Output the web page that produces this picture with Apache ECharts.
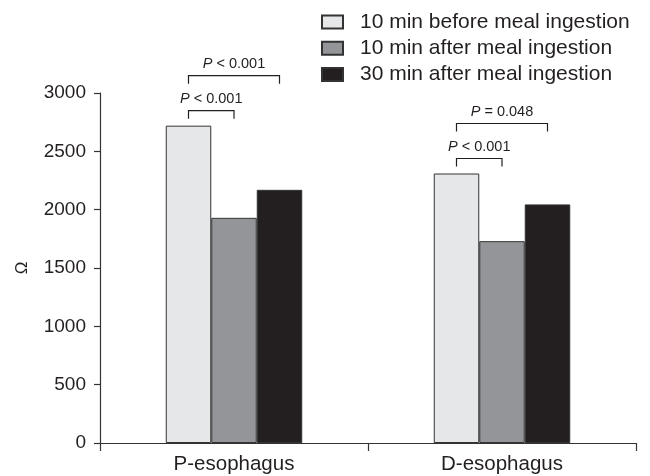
<!DOCTYPE html>
<html>
<head>
<meta charset="utf-8">
<style>
  html, body { margin: 0; padding: 0; background: #ffffff; }
  #chart { width: 650px; height: 476px; }
</style>
<script src="https://cdn.jsdelivr.net/npm/echarts@6/dist/echarts.min.js"></script>
</head>
<body>
<div id="chart"></div>
<script>
// Oesophageal impedance by segment and time relative to a meal
const categories = ['P-esophagus', 'D-esophagus'];
const seriesNames = [
  '10 min before meal ingestion',
  '10 min after meal ingestion',
  '30 min after meal ingestion'
];
const before10 = [2720, 2310];
const after10 = [1930, 1730];
const after30 = [2170, 2045];
const yTicks = [0, 500, 1000, 1500, 2000, 2500, 3000];

// Significance brackets: [category, first bar, second bar, stacking level]
const brackets = [
  [0, 0, 1, 0],
  [0, 0, 2, 1],
  [1, 0, 1, 0],
  [1, 0, 2, 1]
];
const bracketLabels = ['P < 0.001', 'P < 0.001', 'P < 0.001', 'P = 0.048'];

const groups = [before10, after10, after30];
const FONT = '"Liberation Sans", Arial, Helvetica, sans-serif';
const INK = '#231f20';
const BAR_W = 45.5;
const fills = ['#e6e7e9', '#939598', '#231f20'];

const chart = echarts.init(document.getElementById('chart'), null, { renderer: 'canvas' });

const barSeries = groups.map((vals, i) => ({
  name: seriesNames[i],
  type: 'bar',
  data: vals,
  barWidth: BAR_W,
  barGap: '0%',
  itemStyle: { color: fills[i], borderColor: '#333333', borderWidth: 1 },
  emphasis: { disabled: true },
  silent: true
}));

function renderBracket(params, api) {
  const cat = api.value(0);
  const from = api.value(1);
  const to = api.value(2);
  const level = api.value(3);
  const center = api.coord([cat, 0])[0];
  let top = 0;
  for (let k = from; k <= to; k++) top = Math.max(top, groups[k][cat]);
  const yTop = api.coord([cat, top])[1];
  const legBottom = yTop - (level === 0 ? 7 : 42);
  const barTop = legBottom - 8;
  const x1 = center + (from - 1) * BAR_W;
  const x2 = center + (to - 1) * BAR_W;
  const label = bracketLabels[params.dataIndex];
  return {
    type: 'group',
    children: [
      {
        type: 'polyline',
        shape: { points: [[x1, legBottom], [x1, barTop], [x2, barTop], [x2, legBottom]] },
        style: { stroke: INK, lineWidth: 1.2, fill: null }
      },
      {
        type: 'text',
        style: {
          text: '{i|P}' + label.slice(1),
          x: (x1 + x2) / 2,
          y: barTop - 4,
          align: 'center',
          verticalAlign: 'bottom',
          fontSize: 14.5,
          fontFamily: FONT,
          fill: INK,
          rich: { i: { fontStyle: 'italic', fontSize: 14.5, fontFamily: FONT, fill: INK } }
        }
      }
    ]
  };
}

chart.setOption({
  animation: false,
  backgroundColor: '#ffffff',
  grid: { left: 100, right: 14, top: 93, bottom: 33 },
  legend: {
    data: seriesNames,
    orient: 'vertical',
    left: 316,
    top: 6.5,
    itemWidth: 21,
    itemHeight: 13,
    itemGap: 5.3,
    icon: 'rect',
    selectedMode: false,
    textStyle: { fontSize: 21, fontFamily: FONT, color: INK, padding: [0, 0, 0, 12] }
  },
  xAxis: {
    type: 'category',
    data: categories,
    axisLine: { lineStyle: { color: '#333333', width: 1.2 } },
    axisTick: { show: true, length: 8, lineStyle: { color: '#333333', width: 1.2 } },
    axisLabel: { fontSize: 20.5, fontFamily: FONT, color: INK, margin: 11 },
    splitLine: { show: false }
  },
  yAxis: {
    type: 'value',
    min: yTicks[0],
    max: yTicks[yTicks.length - 1],
    interval: yTicks[1] - yTicks[0],
    name: 'Ω',
    nameLocation: 'middle',
    nameRotate: 90,
    nameGap: 69,
    nameTextStyle: { fontSize: 17, fontFamily: FONT, color: INK },
    axisLine: { show: true, lineStyle: { color: '#333333', width: 1.2 } },
    axisTick: { show: true, length: 6, lineStyle: { color: '#333333', width: 1.2 } },
    axisLabel: { fontSize: 19, fontFamily: FONT, color: INK, margin: 14, formatter: v => String(v) },
    splitLine: { show: false }
  },
  series: barSeries.concat([{
    type: 'custom',
    renderItem: renderBracket,
    data: brackets,
    encode: { x: 0, y: 3 },
    clip: false,
    silent: true,
    z: 5
  }])
});
</script>
</body>
</html>
